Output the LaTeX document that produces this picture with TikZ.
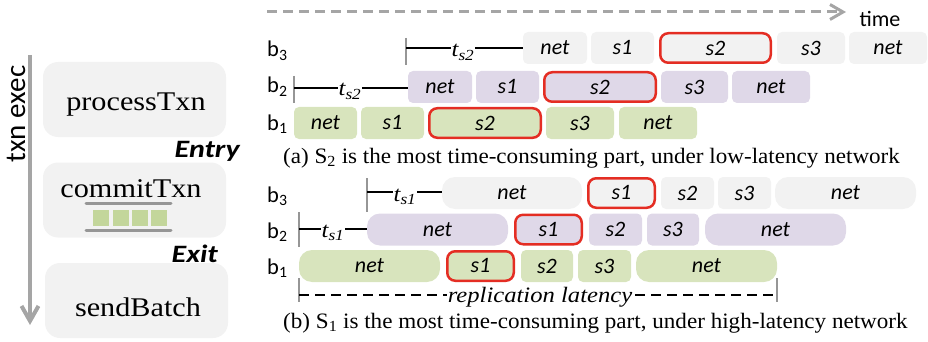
\documentclass[tikz,border=0pt]{standalone}
\usepackage{fontspec}
\setmainfont{Liberation Serif}
\newfontfamily\serifw[FakeStretch=1.12]{Liberation Serif}
\newfontfamily\capf[FakeStretch=1.05]{Liberation Serif}
\newfontfamily\carl{Carlito}
\newfontfamily\carlw[FakeStretch=1.2]{Carlito}
\usetikzlibrary{arrows.meta}
\definecolor{lgray}{RGB}{242,242,242}
\definecolor{lpurp}{RGB}{223,216,232}
\definecolor{lgreen}{RGB}{216,228,189}
\definecolor{sqgreen}{RGB}{195,214,155}
\definecolor{redb}{RGB}{228,45,35}
\definecolor{midgray}{RGB}{150,150,150}
\definecolor{arrgray}{RGB}{165,165,165}
\tikzset{
  blk/.style={rounded corners=5pt, minimum height=32pt, inner sep=0pt, font=\carl\itshape\fontsize{22}{24}\selectfont},
  gb/.style={blk, fill=lgray},
  pb/.style={blk, fill=lpurp},
  vb/.style={blk, fill=lgreen},
  hot/.style={draw=redb, line width=2.5pt, rounded corners=8pt, minimum height=29.5pt},
  pill/.style={rounded corners=13pt},
  lbox/.style={fill=lgray, rounded corners=15pt, minimum width=183pt, minimum height=75pt, inner sep=0pt},
  ltext/.style={font=\serifw\fontsize{27}{30}\selectfont, inner sep=0pt},
  blab/.style={font=\carl\fontsize{22.5}{24}\selectfont, inner sep=0pt},
  tick/.style={draw=midgray, line width=2.5pt},
  tline/.style={draw=black, line width=2.5pt},
  tlab/.style={font=\serifw\itshape\fontsize{22}{24}\selectfont, fill=white, inner sep=1pt},
  capt/.style={font=\capf\fontsize{22}{24}\selectfont, inner sep=0pt},
  phase/.style={font=\carlw\bfseries\itshape\fontsize{25}{28}\selectfont, inner sep=0pt},
  bar/.style={draw=midgray, line width=3pt, line cap=round},
}
\newcommand\seg[6]{\node[#1, minimum width={#4-#3}] (#2) at ({(#3+#4)/2},#5) {#6};}
\begin{document}
\begin{tikzpicture}[x=1pt,y=-1pt]
\useasboundingbox (0,0) rectangle (928,342);
% ---------- left panel ----------
\node[font=\carl\fontsize{29}{32}\selectfont, rotate=90, inner sep=0pt] (txn) at (16,114) {txn exec};
\coordinate (arrtop) at (30,55);
\coordinate (arrbot) at (30,325);
\draw[arrgray, line width=4pt, -{Straight Barb[length=15pt,width=17pt]}] (arrtop) -- (arrbot);
\node[lbox] (proc) at (134.5,99.5) {};
\node[lbox] (commit) at (134.5,200) {};
\node[lbox] (send) at (136.5,300.5) {};
\node[ltext, anchor=base] (proct) at (136,110.5) {processTxn};
\node[ltext, anchor=base] (committ) at (131,197) {commitTxn};
\node[ltext, anchor=base] (sendt) at (138,316) {sendBatch};
\node[phase, anchor=base east] (entry) at (240,157) {Entry};
\node[phase, anchor=base east] (exit) at (218,262) {Exit};
\draw[bar] (86,203) -- (171,203);
\draw[bar] (86,230) -- (171,230);
\fill[sqgreen] (93,210) rectangle (109,226);
\fill[sqgreen] (113,210) rectangle (129,226);
\fill[sqgreen] (132,210) rectangle (148,226);
\fill[sqgreen] (151,210) rectangle (167,226);
% ---------- time arrow ----------
\coordinate (ts) at (267,12);
\coordinate (te) at (846,12);
\draw[arrgray, line width=3pt, dash pattern=on 10pt off 6pt, -{Straight Barb[length=13pt,width=15pt]}] (ts) -- (te);
\node[font=\carl\fontsize{22}{24}\selectfont, inner sep=0pt, anchor=base] (time) at (880,27) {time};
% ---------- (a) ----------
\node[blab, anchor=base west] (la3) at (267,57) {b\textsubscript{3}};
\node[blab, anchor=base west] (la2) at (267,93) {b\textsubscript{2}};
\node[blab, anchor=base west] (la1) at (267,130) {b\textsubscript{1}};
\seg{gb}{a3a}{523}{587}{48}{net}
\seg{gb}{a3b}{591}{654}{48}{s1}
\seg{gb,hot}{a3c}{660.25}{770.75}{48}{s2}
\seg{gb}{a3d}{777}{845}{48}{s3}
\seg{gb}{a3e}{849}{927}{48}{net}
\seg{pb}{a2a}{408}{472}{87}{net}
\seg{pb}{a2b}{476}{539}{87}{s1}
\seg{pb,hot}{a2c}{544.25}{655.75}{87}{s2}
\seg{pb}{a2d}{661}{728}{87}{s3}
\seg{pb}{a2e}{732}{810}{87}{net}
\seg{vb}{a1a}{294}{357}{123}{net}
\seg{vb}{a1b}{361}{424}{123}{s1}
\seg{vb,hot}{a1c}{429.25}{540.75}{123}{s2}
\seg{vb}{a1d}{546}{614}{123}{s3}
\seg{vb}{a1e}{619}{697}{123}{net}
\coordinate (a3t) at (406,48);
\draw[tick] (406,38) -- (406,65);
\draw[tline] (a3t) -- (a3a.west);
\node[tlab, anchor=base] (a3l) at (463,57) {t\textsubscript{s2}};
\coordinate (a2t) at (294,88);
\draw[tick] (294,76) -- (294,103);
\draw[tline] (a2t) -- (a2a.west |- a2t);
\node[tlab, anchor=base] (a2l) at (350,96) {t\textsubscript{s2}};
\node[capt, anchor=base west] (capa) at (283,163) {(a) S\textsubscript{2} is the most time-consuming part, under low-latency network};
% ---------- (b) ----------
\node[blab, anchor=base west] (lb3) at (267,202) {b\textsubscript{3}};
\node[blab, anchor=base west] (lb2) at (267,238) {b\textsubscript{2}};
\node[blab, anchor=base west] (lb1) at (267,274) {b\textsubscript{1}};
\seg{gb,pill}{b3a}{442}{582}{193}{net}
\seg{gb,hot}{b3b}{588.25}{654.75}{193}{s1}
\seg{gb}{b3c}{661}{714}{193}{s2}
\seg{gb}{b3d}{718}{771}{193}{s3}
\seg{gb,pill}{b3e}{775}{916}{193}{net}
\seg{pb,pill}{b2a}{367}{508}{229.5}{net}
\seg{pb,hot}{b2b}{515.25}{581.75}{229.5}{s1}
\seg{pb}{b2c}{589}{642}{229.5}{s2}
\seg{pb}{b2d}{647}{699}{229.5}{s3}
\seg{pb,pill}{b2e}{705}{846}{229.5}{net}
\seg{vb,pill}{b1a}{299}{440}{266}{net}
\seg{vb,hot}{b1b}{447.25}{513.75}{266}{s1}
\seg{vb}{b1c}{521}{573}{266}{s2}
\seg{vb}{b1d}{578}{631}{266}{s3}
\seg{vb,pill}{b1e}{636}{777}{266}{net}
\coordinate (b3t) at (367,192);
\draw[tick] (367,178) -- (367,212);
\draw[tline] (b3t) -- (b3a.west |- b3t);
\node[tlab, anchor=base] (b3l) at (405,201) {t\textsubscript{s1}};
\coordinate (b2t) at (299,229);
\draw[tick] (299,212) -- (299,247);
\draw[tline] (b2t) -- (b2a.west |- b2t);
\node[tlab, anchor=base] (b2l) at (333,237) {t\textsubscript{s1}};
\coordinate (rl) at (299,295);
\coordinate (rr) at (777,295);
\draw[tick] (299,278) -- (299,302);
\draw[tick] (777,278) -- (777,302);
\draw[black, line width=2.5pt, dash pattern=on 10pt off 6pt] (rl) -- (rr);
\node[font=\serifw\itshape\fontsize{22}{24}\selectfont, fill=white, inner sep=1pt] (rep) at (540,297) {replication latency};
\node[capt, anchor=base west] (capb) at (283,328) {(b) S\textsubscript{1} is the most time-consuming part, under high-latency network};
\end{tikzpicture}
\end{document}
